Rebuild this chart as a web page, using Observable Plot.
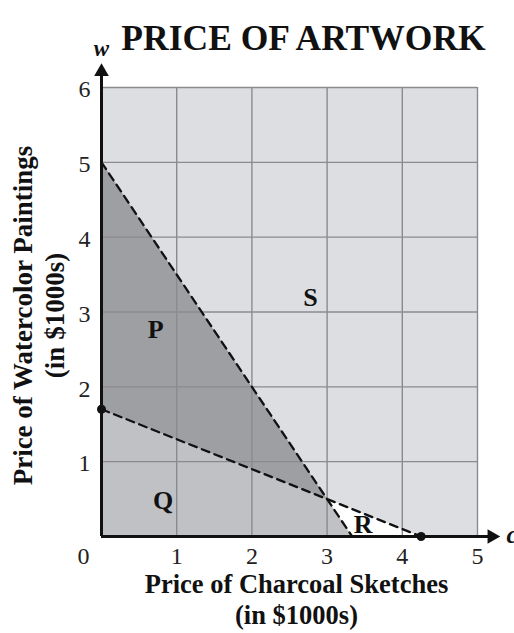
<!DOCTYPE html>
<html>
<head>
<meta charset="utf-8">
<script src="https://cdn.jsdelivr.net/npm/d3@7"></script>
<script src="https://cdn.jsdelivr.net/npm/@observablehq/plot@0.6"></script>
<style>
  html, body { margin: 0; padding: 0; background: #fff; overflow: hidden; }
  svg { display: block; }
</style>
</head>
<body>
<div id="chart"></div>
<script>
// Axis ticks
const xTicks = [1, 2, 3, 4, 5];
const yTicks = [1, 2, 3, 4, 5, 6];

// Boundary lines (c = charcoal price, w = watercolor price, in $1000s)
const lineSteep = [{c: 0, w: 5}, {c: 10/3, w: 0}];
const lineShallow = [{c: 0, w: 1.7}, {c: 4.25, w: 0}];
const endpoints = [{c: 0, w: 1.7}, {c: 4.25, w: 0}];

// Regions (polygon vertices)
const regionS = [{c: 0, w: 0}, {c: 5, w: 0}, {c: 5, w: 6}, {c: 0, w: 6}];
const regionP = [{c: 0, w: 5}, {c: 3, w: 0.5}, {c: 0, w: 1.7}];
const regionQ = [{c: 0, w: 0}, {c: 0, w: 1.7}, {c: 3, w: 0.5}, {c: 10/3, w: 0}];
const regionR = [{c: 3, w: 0.5}, {c: 10/3, w: 0}, {c: 4.25, w: 0}];

// Region labels
const regionLabels = [
  {label: "P", c: 0.72, w: 2.76},
  {label: "S", c: 2.78, w: 3.19},
  {label: "Q", c: 0.82, w: 0.48},
  {label: "R", c: 3.48, w: 0.16}
];

const serif = "Liberation Serif, Times New Roman, serif";

const chart = Plot.plot({
  width: 514,
  height: 633,
  marginLeft: 101,
  marginRight: 37,
  marginTop: 87,
  marginBottom: 97,
  x: {domain: [0, 5], axis: null},
  y: {domain: [0, 6], axis: null},
  style: {fontFamily: serif, background: "white", overflow: "visible"},
  marks: [
    Plot.line(regionS, {x: "c", y: "w", fill: "#dddee1", stroke: "none"}),
    Plot.line(regionQ, {x: "c", y: "w", fill: "#c0c1c5", stroke: "none"}),
    Plot.line(regionP, {x: "c", y: "w", fill: "#9e9fa3", stroke: "none"}),
    Plot.line(regionR, {x: "c", y: "w", fill: "#ffffff", stroke: "none"}),
    Plot.ruleX(xTicks, {y1: 0, y2: 6, stroke: "#8b8b8f", strokeWidth: 1.4}),
    Plot.ruleY(yTicks, {x1: 0, x2: 5, stroke: "#8b8b8f", strokeWidth: 1.4}),
    Plot.line(lineSteep, {x: "c", y: "w", stroke: "#111", strokeWidth: 2.3, strokeDasharray: "8,5.5"}),
    Plot.line(lineShallow, {x: "c", y: "w", stroke: "#111", strokeWidth: 2.3, strokeDasharray: "8,5.5"}),
    // axes
    Plot.ruleY([0], {x1: 0, x2: 5.15, stroke: "#111", strokeWidth: 3}),
    Plot.ruleX([0], {y1: 0, y2: 6.25, stroke: "#111", strokeWidth: 3}),
    Plot.dot([0], {x: 5.19, y: 0, symbol: "triangle2", rotate: 90, r: 7, fill: "#111", stroke: "none"}),
    Plot.dot([0], {x: 0, y: 6.21, symbol: "triangle2", r: 7, fill: "#111", stroke: "none"}),
    Plot.dot(endpoints, {x: "c", y: "w", r: 4.5, fill: "#111", stroke: "none"}),
    // tick labels
    Plot.text(xTicks, {x: d => d, y: 0, dy: 20, text: d => String(d), fontSize: 24, fill: "#222"}),
    Plot.text([0], {x: 0, y: 0, dx: -18, dy: 20, text: d => String(d), fontSize: 24, fill: "#222"}),
    Plot.text(yTicks, {x: 0, y: d => d, dx: -17, dy: 2, text: d => String(d), fontSize: 24, fill: "#222"}),
    // axis variable names
    Plot.text(["w"], {x: 0, y: 6, dy: -39, text: d => d, fontSize: 23, fontStyle: "italic", fontWeight: "bold", fill: "#111"}),
    Plot.text(["c"], {x: 5, y: 0, dx: 29, dy: -2, textAnchor: "start", text: d => d, fontSize: 25, fontStyle: "italic", fontWeight: "bold", fill: "#111"}),
    // region labels
    Plot.text(regionLabels, {x: "c", y: "w", text: "label", fontSize: 26, fontWeight: "bold", fill: "#111"}),
    // title and axis titles
    Plot.text(["PRICE OF ARTWORK"], {frameAnchor: "top", textAnchor: "middle", dx: 14, dy: -63, text: d => d, fontSize: 35.5, fontWeight: "bold", fill: "#111"}),
    Plot.text(["Price of Charcoal Sketches"], {frameAnchor: "bottom", textAnchor: "middle", dx: 7, dy: 56, text: d => d, fontSize: 26.5, fontWeight: "bold", fill: "#111"}),
    Plot.text(["(in $1000s)"], {frameAnchor: "bottom", textAnchor: "middle", dx: 7, dy: 87, text: d => d, fontSize: 26.5, fontWeight: "bold", fill: "#111"}),
    Plot.text(["Price of Watercolor Paintings"], {frameAnchor: "left", textAnchor: "middle", dx: -78, dy: 3.5, rotate: -90, text: d => d, fontSize: 27, fontWeight: "bold", fill: "#111"}),
    Plot.text(["(in $1000s)"], {frameAnchor: "left", textAnchor: "middle", dx: -46, dy: 3.5, rotate: -90, text: d => d, fontSize: 27, fontWeight: "bold", fill: "#111"})
  ]
});
document.getElementById("chart").appendChild(chart);
</script>
</body>
</html>
